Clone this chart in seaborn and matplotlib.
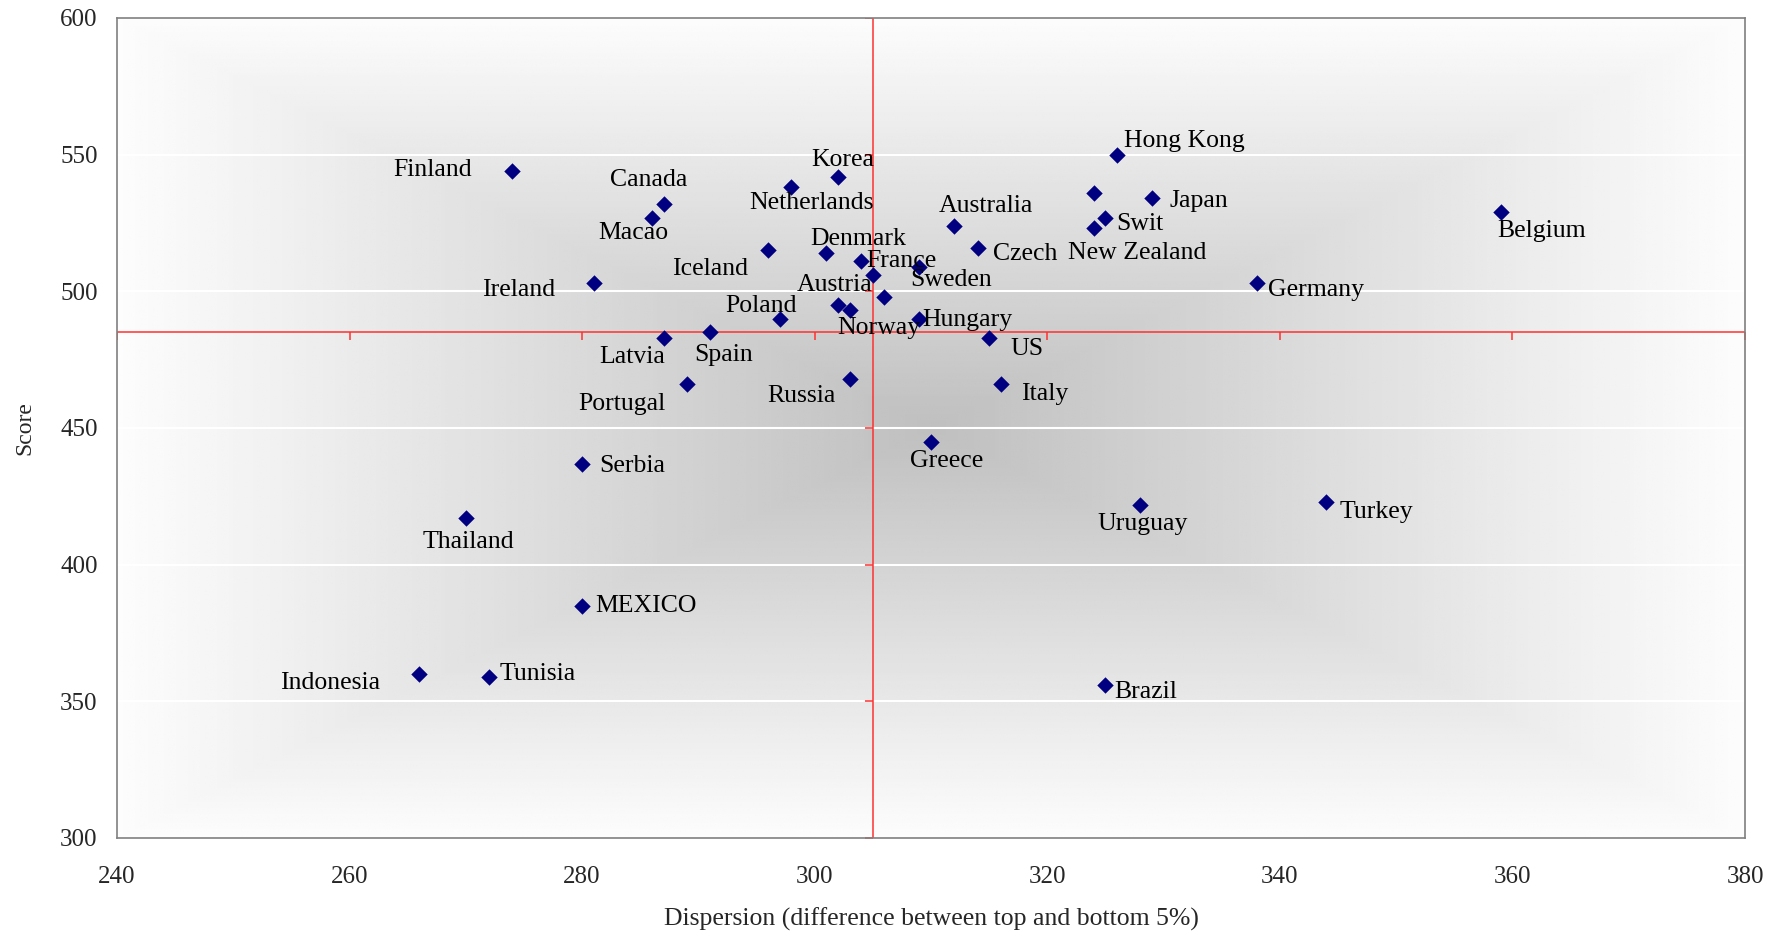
import numpy as np
import pandas as pd
import matplotlib
matplotlib.use("Agg")
import matplotlib.pyplot as plt
import seaborn as sns

countries = ["Hong Kong", "Finland", "Korea", "Netherlands", "Liechtenstein", "Japan",
             "Canada", "Belgium", "Macao", "Swit", "Australia", "New Zealand", "Czech",
             "Iceland", "Denmark", "France", "Sweden", "Austria", "Germany", "Ireland",
             "Slovakia", "Norway", "Luxembourg", "Poland", "Hungary", "Spain", "Latvia",
             "US", "Russia", "Portugal", "Italy", "Greece", "Serbia", "Turkey", "Uruguay",
             "Thailand", "MEXICO", "Indonesia", "Tunisia", "Brazil"]
dispersion = [326, 274, 302, 298, 324, 329, 287, 359, 286, 325, 312, 324, 314,
              296, 301, 304, 309, 305, 338, 281, 306, 302, 303, 297, 309, 291, 287,
              315, 303, 289, 316, 310, 280, 344, 328, 270, 280, 266, 272, 325]
score = [550, 544, 542, 538, 536, 534, 532, 529, 527, 527, 524, 523, 516,
         515, 514, 511, 509, 506, 503, 503, 498, 495, 493, 490, 490, 485, 483,
         483, 468, 466, 466, 445, 437, 423, 422, 417, 385, 360, 359, 356]

x_ticks = [240, 260, 280, 300, 320, 340, 360, 380]
y_ticks = [300, 350, 400, 450, 500, 550, 600]
x_cross = 305
y_cross = 485

# label placement (offset in pixels from the point); unlabeled points are left out
label_offsets = {
    "Hong Kong": (67, 14), "Finland": (-80, 1), "Korea": (5, 17), "Netherlands": (20, -16),
    "Japan": (47, -3), "Canada": (-15, 24), "Belgium": (41, -19), "Macao": (-19, -15),
    "Swit": (34, -6), "Australia": (32, 20), "New Zealand": (43, -25), "Czech": (48, -6),
    "Iceland": (-58, -19), "Denmark": (32, 14), "France": (40, 0), "Sweden": (32, -13),
    "Austria": (-38, -10), "Germany": (59, -7), "Ireland": (-75, -7), "Norway": (41, -23),
    "Poland": (-19, 13), "Hungary": (48, -1), "Spain": (14, -23), "Latvia": (-31, -19),
    "US": (38, -11), "Russia": (-48, -17), "Portugal": (-65, -20), "Italy": (44, -10),
    "Greece": (16, -19), "Serbia": (50, -2), "Turkey": (50, -10), "Uruguay": (2, -19),
    "Thailand": (3, -24), "MEXICO": (64, 0), "Indonesia": (-89, -9), "Tunisia": (49, 3),
    "Brazil": (40, -7),
}

df = pd.DataFrame({"country": countries, "dispersion": dispersion, "score": score})

sns.set_style("white")
plt.rcParams["font.family"] = ["Liberation Serif", "DejaVu Serif"]

fig = plt.figure(figsize=(17.83, 9.31), dpi=100)
ax = fig.add_axes([0.0656, 0.0999, 0.9131, 0.8808])

# rectangular "from centre" gradient fill of the plot area
u = np.linspace(-1, 1, 400)
U, V = np.meshgrid(u, u)
t = np.maximum(np.abs(U), np.abs(V))
shade = 0.75 + 0.24 * t
ax.imshow(shade, cmap="gray", vmin=0, vmax=1, extent=(240, 380, 300, 600),
          aspect="auto", zorder=0, interpolation="bilinear")

for yv in y_ticks[1:-1]:
    ax.axhline(yv, color="white", lw=1.5, zorder=1)

ax.axhline(y_cross, color="#ff3030", lw=1.1, zorder=2)
ax.axvline(x_cross, color="#ff3030", lw=1.1, zorder=2)
ax.plot(x_ticks, [y_cross] * len(x_ticks), ls="", marker=3, ms=6, mew=1.1,
        color="#ff3030", zorder=2)
ax.plot([x_cross] * len(y_ticks), y_ticks, ls="", marker=0, ms=6, mew=1.1,
        color="#ff3030", zorder=2)

sns.scatterplot(data=df, x="dispersion", y="score", marker="D", s=70,
                color="#000080", edgecolor="#000080", linewidth=0, ax=ax, zorder=3)

for c, xv, yv in zip(countries, dispersion, score):
    if c in label_offsets:
        ax.annotate(c, (xv, yv), xytext=label_offsets[c], textcoords="offset pixels",
                    ha="center", va="center", fontsize=18.5, color="black", zorder=4)

ax.set_xlim(240, 380)
ax.set_ylim(300, 600)
ax.set_xticks(x_ticks)
ax.set_yticks(y_ticks)
ax.tick_params(axis="both", length=0, labelsize=18)
ax.tick_params(axis="x", pad=20)
ax.tick_params(axis="y", pad=14)
ax.set_xlabel("Dispersion (difference between top and bottom 5%)", fontsize=18.5, labelpad=14)
ax.set_ylabel("Score", fontsize=17, labelpad=18)
for sp in ax.spines.values():
    sp.set_color("#808080")
    sp.set_linewidth(1.2)

fig.savefig("out.png", dpi=100)
